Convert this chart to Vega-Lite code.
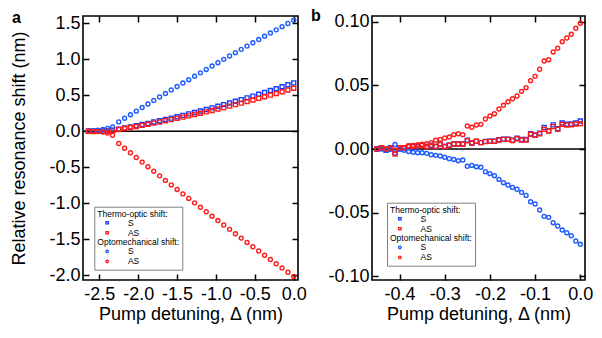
{
  "$schema": "https://vega.github.io/schema/vega-lite/v6.json",
  "background": "white",
  "padding": {"left": 10, "top": 7, "right": 2, "bottom": 2},
  "config": {
    "view": {"stroke": "black", "strokeWidth": 1.6},
    "axis": {"grid": false, "domain": false, "labelFont": "Liberation Sans", "labelFontSize": 18, "labelColor": "black", "titleFont": "Liberation Sans", "titleFontSize": 18, "titleFontWeight": "normal", "titleColor": "black", "tickColor": "black", "tickWidth": 1.5, "tickSize": -6, "labelFlush": false, "labelOverlap": false},
    "legend": {"orient": "none", "padding": 3, "labelFont": "Liberation Sans", "labelFontSize": 8.5, "labelColor": "black", "labelOffset": 16.5, "labelLimit": 200, "symbolSize": 6, "symbolStrokeWidth": 1.3, "symbolOffset": 5.6, "rowPadding": 1, "titleFont": "Liberation Sans", "titleFontSize": 8.5, "titleFontWeight": "normal", "titleColor": "black", "titleLineHeight": 9.5, "titlePadding": 0.5, "titleLimit": 300}
  },
  "datasets": {
    "a": [
      {"x": -2.64, "ts": 0, "tas": 0, "os": 0.005, "oas": 0},
      {"x": -2.58, "ts": 0, "tas": -0.003, "os": 0.008, "oas": -0.002},
      {"x": -2.52, "ts": 0.002, "tas": 0, "os": 0.015, "oas": -0.004},
      {"x": -2.455, "ts": 0.004, "tas": 0.002, "os": 0.025, "oas": -0.012},
      {"x": -2.395, "ts": 0.008, "tas": 0.004, "os": 0.04, "oas": -0.025},
      {"x": -2.33, "ts": 0.016, "tas": 0.01, "os": 0.06, "oas": -0.055},
      {"x": -2.25, "ts": 0.030, "tas": 0.025, "os": 0.130, "oas": -0.170},
      {"x": -2.175, "ts": 0.045, "tas": 0.039, "os": 0.180, "oas": -0.235},
      {"x": -2.1, "ts": 0.061, "tas": 0.053, "os": 0.230, "oas": -0.299},
      {"x": -2.025, "ts": 0.077, "tas": 0.067, "os": 0.279, "oas": -0.364},
      {"x": -1.95, "ts": 0.093, "tas": 0.082, "os": 0.329, "oas": -0.428},
      {"x": -1.875, "ts": 0.110, "tas": 0.097, "os": 0.378, "oas": -0.492},
      {"x": -1.8, "ts": 0.128, "tas": 0.113, "os": 0.427, "oas": -0.555},
      {"x": -1.725, "ts": 0.145, "tas": 0.129, "os": 0.476, "oas": -0.619},
      {"x": -1.65, "ts": 0.164, "tas": 0.145, "os": 0.524, "oas": -0.682},
      {"x": -1.575, "ts": 0.182, "tas": 0.162, "os": 0.573, "oas": -0.745},
      {"x": -1.5, "ts": 0.201, "tas": 0.179, "os": 0.621, "oas": -0.808},
      {"x": -1.425, "ts": 0.221, "tas": 0.196, "os": 0.669, "oas": -0.870},
      {"x": -1.35, "ts": 0.241, "tas": 0.214, "os": 0.716, "oas": -0.932},
      {"x": -1.275, "ts": 0.261, "tas": 0.232, "os": 0.764, "oas": -0.994},
      {"x": -1.2, "ts": 0.282, "tas": 0.250, "os": 0.811, "oas": -1.056},
      {"x": -1.125, "ts": 0.303, "tas": 0.269, "os": 0.858, "oas": -1.118},
      {"x": -1.05, "ts": 0.325, "tas": 0.289, "os": 0.905, "oas": -1.179},
      {"x": -0.975, "ts": 0.347, "tas": 0.308, "os": 0.952, "oas": -1.240},
      {"x": -0.9, "ts": 0.369, "tas": 0.328, "os": 0.998, "oas": -1.301},
      {"x": -0.825, "ts": 0.392, "tas": 0.349, "os": 1.045, "oas": -1.362},
      {"x": -0.75, "ts": 0.416, "tas": 0.369, "os": 1.091, "oas": -1.423},
      {"x": -0.675, "ts": 0.439, "tas": 0.390, "os": 1.137, "oas": -1.483},
      {"x": -0.6, "ts": 0.463, "tas": 0.412, "os": 1.182, "oas": -1.543},
      {"x": -0.525, "ts": 0.488, "tas": 0.434, "os": 1.228, "oas": -1.603},
      {"x": -0.45, "ts": 0.513, "tas": 0.456, "os": 1.273, "oas": -1.662},
      {"x": -0.375, "ts": 0.539, "tas": 0.479, "os": 1.318, "oas": -1.722},
      {"x": -0.3, "ts": 0.565, "tas": 0.502, "os": 1.363, "oas": -1.781},
      {"x": -0.225, "ts": 0.591, "tas": 0.525, "os": 1.408, "oas": -1.840},
      {"x": -0.15, "ts": 0.618, "tas": 0.549, "os": 1.452, "oas": -1.898},
      {"x": -0.075, "ts": 0.645, "tas": 0.573, "os": 1.496, "oas": -1.957},
      {"x": 0, "ts": 0.672, "tas": 0.597, "os": 1.540, "oas": -2.015}
    ],
    "b": [
      {"x": -0.45, "os": 0.000, "oas": 0.000, "ts": 0.000, "tas": 0.000},
      {"x": -0.44, "os": 0.000, "oas": 0.001, "ts": 0.001, "tas": 0.001},
      {"x": -0.43, "os": -0.001, "oas": 0.000, "ts": -0.001, "tas": 0.000},
      {"x": -0.42, "os": 0.000, "oas": 0.001, "ts": 0.001, "tas": 0.000},
      {"x": -0.41, "os": 0.0035, "oas": -0.001, "ts": -0.003, "tas": -0.004},
      {"x": -0.40, "os": 0.000, "oas": 0.001, "ts": 0.000, "tas": 0.001},
      {"x": -0.39, "os": -0.001, "oas": 0.001, "ts": 0.001, "tas": 0.001},
      {"x": -0.38, "os": -0.002, "oas": 0.0026, "ts": 0.002, "tas": 0.002},
      {"x": -0.37, "os": -0.0026, "oas": 0.0029, "ts": 0.002, "tas": 0.002},
      {"x": -0.36, "os": -0.0029, "oas": 0.0034, "ts": 0.002, "tas": 0.0025},
      {"x": -0.35, "os": -0.0029, "oas": 0.0037, "ts": 0.003, "tas": 0.003},
      {"x": -0.34, "os": -0.0034, "oas": 0.0042, "ts": 0.002, "tas": 0.002},
      {"x": -0.33, "os": -0.0045, "oas": 0.005, "ts": 0.003, "tas": 0.0025},
      {"x": -0.32, "os": -0.005, "oas": 0.0069, "ts": 0.002, "tas": 0.002},
      {"x": -0.31, "os": -0.0055, "oas": 0.0076, "ts": 0.004, "tas": 0.0035},
      {"x": -0.30, "os": -0.0065, "oas": 0.0087, "ts": 0.002, "tas": 0.002},
      {"x": -0.29, "os": -0.0076, "oas": 0.0094, "ts": 0.003, "tas": 0.003},
      {"x": -0.28, "os": -0.0082, "oas": 0.0113, "ts": 0.004, "tas": 0.004},
      {"x": -0.27, "os": -0.0092, "oas": 0.012, "ts": 0.004, "tas": 0.004},
      {"x": -0.26, "os": -0.0087, "oas": 0.0113, "ts": 0.004, "tas": 0.0037},
      {"x": -0.25, "os": -0.0136, "oas": 0.0181, "ts": 0.007, "tas": 0.0065},
      {"x": -0.24, "os": -0.0129, "oas": 0.0171, "ts": 0.005, "tas": 0.0045},
      {"x": -0.23, "os": -0.0139, "oas": 0.0189, "ts": 0.006, "tas": 0.0061},
      {"x": -0.22, "os": -0.0144, "oas": 0.0194, "ts": 0.005, "tas": 0.005},
      {"x": -0.21, "os": -0.0178, "oas": 0.0236, "ts": 0.006, "tas": 0.0058},
      {"x": -0.20, "os": -0.0194, "oas": 0.026, "ts": 0.0062, "tas": 0.006},
      {"x": -0.19, "os": -0.021, "oas": 0.0278, "ts": 0.0062, "tas": 0.006},
      {"x": -0.18, "os": -0.0239, "oas": 0.0315, "ts": 0.0073, "tas": 0.0071},
      {"x": -0.17, "os": -0.0265, "oas": 0.0344, "ts": 0.0078, "tas": 0.0076},
      {"x": -0.16, "os": -0.0283, "oas": 0.0372, "ts": 0.0078, "tas": 0.0076},
      {"x": -0.15, "os": -0.0302, "oas": 0.0396, "ts": 0.007, "tas": 0.0066},
      {"x": -0.14, "os": -0.0317, "oas": 0.0417, "ts": 0.0085, "tas": 0.0081},
      {"x": -0.13, "os": -0.0341, "oas": 0.0454, "ts": 0.0075, "tas": 0.0071},
      {"x": -0.12, "os": -0.0365, "oas": 0.0483, "ts": 0.0075, "tas": 0.0071},
      {"x": -0.11, "os": -0.0415, "oas": 0.0538, "ts": 0.012, "tas": 0.0116},
      {"x": -0.10, "os": -0.0433, "oas": 0.0572, "ts": 0.011, "tas": 0.0108},
      {"x": -0.09, "os": -0.048, "oas": 0.0628, "ts": 0.0125, "tas": 0.012},
      {"x": -0.08, "os": -0.053, "oas": 0.0693, "ts": 0.017, "tas": 0.0155},
      {"x": -0.07, "os": -0.0538, "oas": 0.0703, "ts": 0.0145, "tas": 0.0142},
      {"x": -0.06, "os": -0.058, "oas": 0.0764, "ts": 0.019, "tas": 0.0176},
      {"x": -0.05, "os": -0.0606, "oas": 0.0793, "ts": 0.016, "tas": 0.0155},
      {"x": -0.04, "os": -0.0638, "oas": 0.0845, "ts": 0.0205, "tas": 0.0194},
      {"x": -0.03, "os": -0.0659, "oas": 0.0874, "ts": 0.0195, "tas": 0.0189},
      {"x": -0.02, "os": -0.0683, "oas": 0.0903, "ts": 0.0198, "tas": 0.0191},
      {"x": -0.01, "os": -0.0724, "oas": 0.095, "ts": 0.0205, "tas": 0.0197},
      {"x": 0.00, "os": -0.075, "oas": 0.099, "ts": 0.022, "tas": 0.020}
    ]
  },
  "spacing": 2,
  "hconcat": [
    {
      "width": 215,
      "height": 264,
      "title": {"text": "a", "anchor": "start", "frame": "group", "fontSize": 16, "fontWeight": "bold", "font": "Liberation Sans", "color": "black", "baseline": "alphabetic", "offset": 0, "dy": 24.3, "dx": -71},
      "layer": [
        {
          "data": {"values": [{}]},
          "mark": {"type": "rule", "color": "black", "strokeWidth": 1.5},
          "encoding": {"y": {"datum": 0, "type": "quantitative", "scale": {"domain": [-2.065, 1.6], "nice": false, "zero": false}, "axis": null}}
        },
        {
          "data": {"name": "a"},
          "mark": {"type": "point", "opacity": 0},
          "encoding": {
            "x": {"field": "x", "type": "quantitative", "scale": {"domain": [-2.71, 0.055], "nice": false, "zero": false}, "axis": {"orient": "top", "labels": false, "title": null, "values": [-2.5, -2, -1.5, -1, -0.5, 0]}},
            "y": {"field": "os", "type": "quantitative", "scale": {"domain": [-2.065, 1.6], "nice": false, "zero": false}, "axis": {"orient": "right", "labels": false, "title": null, "values": [-2, -1.5, -1, -0.5, 0, 0.5, 1, 1.5]}}
          }
        },
        {
          "data": {"name": "a"},
          "transform": [{"fold": ["ts", "tas"], "as": ["key", "val"]}],
          "mark": {"type": "point", "filled": false, "shape": "square", "size": 16, "strokeWidth": 1.4, "opacity": 1},
          "encoding": {
            "x": {"field": "x", "type": "quantitative", "scale": {"domain": [-2.71, 0.055], "nice": false, "zero": false}, "axis": {"orient": "bottom", "title": "Pump detuning, Δ (nm)", "values": [-2.5, -2, -1.5, -1, -0.5, 0], "labelExpr": "(datum.value < 0 ? '-' : '') + format(abs(datum.value), '.1f')", "labelPadding": 11, "titlePadding": 2}},
            "y": {"field": "val", "type": "quantitative", "scale": {"domain": [-2.065, 1.6], "nice": false, "zero": false}, "axis": {"orient": "left", "title": "Relative resonance shift (nm)", "values": [-2, -1.5, -1, -0.5, 0, 0.5, 1, 1.5], "labelExpr": "(datum.value < 0 ? '-' : '') + format(abs(datum.value), '.1f')", "labelPadding": 9, "titlePadding": 20}},
            "color": {
              "field": "key", "type": "nominal",
              "scale": {"domain": ["ts", "tas"], "range": ["#1a3cff", "#ff1a1a"]},
              "legend": {"title": null, "legendX": 11.3, "legendY": 199.5, "symbolType": "square", "labelExpr": "datum.value == 'ts' ? 'S' : 'AS'"}
            }
          }
        },
        {
          "data": {"name": "a"},
          "transform": [{"fold": ["os", "oas"], "as": ["key", "val"]}],
          "mark": {"type": "point", "filled": false, "shape": "circle", "size": 16, "strokeWidth": 1.4, "opacity": 1},
          "encoding": {
            "x": {"field": "x", "type": "quantitative", "scale": {"domain": [-2.71, 0.055], "nice": false, "zero": false}, "axis": null},
            "y": {"field": "val", "type": "quantitative", "scale": {"domain": [-2.065, 1.6], "nice": false, "zero": false}, "axis": null},
            "stroke": {
              "field": "key", "type": "nominal",
              "scale": {"domain": ["os", "oas"], "range": ["#1e5bff", "#ff1a1a"]},
              "legend": {"title": ["Thermo-optic shift:", "\u200b", "\u200b", "Optomechanical shift:"], "legendX": 11.3, "legendY": 190.7, "strokeColor": "#808080", "symbolType": "circle", "labelExpr": "datum.value == 'os' ? 'S' : 'AS'"}
            }
          }
        }
      ],
      "resolve": {"axis": {"x": "independent", "y": "independent"}}
    },
    {
      "width": 213,
      "height": 264,
      "title": {"text": "b", "anchor": "start", "frame": "group", "fontSize": 16, "fontWeight": "bold", "font": "Liberation Sans", "color": "black", "baseline": "alphabetic", "offset": 0, "dy": 24.3, "dx": -61},
      "layer": [
        {
          "data": {"values": [{}]},
          "mark": {"type": "rule", "color": "black", "strokeWidth": 1.5},
          "encoding": {"y": {"datum": 0, "type": "quantitative", "scale": {"domain": [-0.1031, 0.1047], "nice": false, "zero": false}, "axis": null}}
        },
        {
          "data": {"name": "b"},
          "mark": {"type": "point", "opacity": 0},
          "encoding": {
            "x": {"field": "x", "type": "quantitative", "scale": {"domain": [-0.461, 0.0104], "nice": false, "zero": false}, "axis": {"orient": "top", "labels": false, "title": null, "values": [-0.4, -0.3, -0.2, -0.1, 0]}},
            "y": {"field": "os", "type": "quantitative", "scale": {"domain": [-0.1031, 0.1047], "nice": false, "zero": false}, "axis": {"orient": "right", "labels": false, "title": null, "values": [-0.1, -0.05, 0, 0.05, 0.1]}}
          }
        },
        {
          "data": {"name": "b"},
          "transform": [{"fold": ["ts", "tas"], "as": ["key", "val"]}],
          "mark": {"type": "point", "filled": false, "shape": "square", "size": 16, "strokeWidth": 1.4, "opacity": 1},
          "encoding": {
            "x": {"field": "x", "type": "quantitative", "scale": {"domain": [-0.461, 0.0104], "nice": false, "zero": false}, "axis": {"orient": "bottom", "title": "Pump detuning, Δ (nm)", "values": [-0.4, -0.3, -0.2, -0.1, 0], "labelExpr": "(datum.value < 0 ? '-' : '') + format(abs(datum.value), '.1f')", "labelPadding": 11, "titlePadding": 2}},
            "y": {"field": "val", "type": "quantitative", "scale": {"domain": [-0.1031, 0.1047], "nice": false, "zero": false}, "axis": {"orient": "left", "title": null, "values": [-0.1, -0.05, 0, 0.05, 0.1], "labelExpr": "(datum.value < 0 ? '-' : '') + format(abs(datum.value), '.2f')", "labelPadding": 9}},
            "color": {
              "field": "key", "type": "nominal",
              "scale": {"domain": ["ts", "tas"], "range": ["#1a3cff", "#ff1a1a"]},
              "legend": {"title": null, "legendX": 15, "legendY": 195.5, "symbolType": "square", "labelExpr": "datum.value == 'ts' ? 'S' : 'AS'"}
            }
          }
        },
        {
          "data": {"name": "b"},
          "transform": [{"fold": ["os", "oas"], "as": ["key", "val"]}],
          "mark": {"type": "point", "filled": false, "shape": "circle", "size": 16, "strokeWidth": 1.4, "opacity": 1},
          "encoding": {
            "x": {"field": "x", "type": "quantitative", "scale": {"domain": [-0.461, 0.0104], "nice": false, "zero": false}, "axis": null},
            "y": {"field": "val", "type": "quantitative", "scale": {"domain": [-0.1031, 0.1047], "nice": false, "zero": false}, "axis": null},
            "stroke": {
              "field": "key", "type": "nominal",
              "scale": {"domain": ["os", "oas"], "range": ["#1e5bff", "#ff1a1a"]},
              "legend": {"title": ["Thermo-optic shift:", "\u200b", "\u200b", "Optomechanical shift:"], "legendX": 15, "legendY": 186.7, "strokeColor": "#808080", "symbolType": "circle", "labelExpr": "datum.value == 'os' ? 'S' : 'AS'"}
            }
          }
        }
      ],
      "resolve": {"axis": {"x": "independent", "y": "independent"}}
    }
  ],
  "resolve": {"scale": {"color": "independent", "stroke": "independent"}, "legend": {"color": "independent", "stroke": "independent"}}
}
